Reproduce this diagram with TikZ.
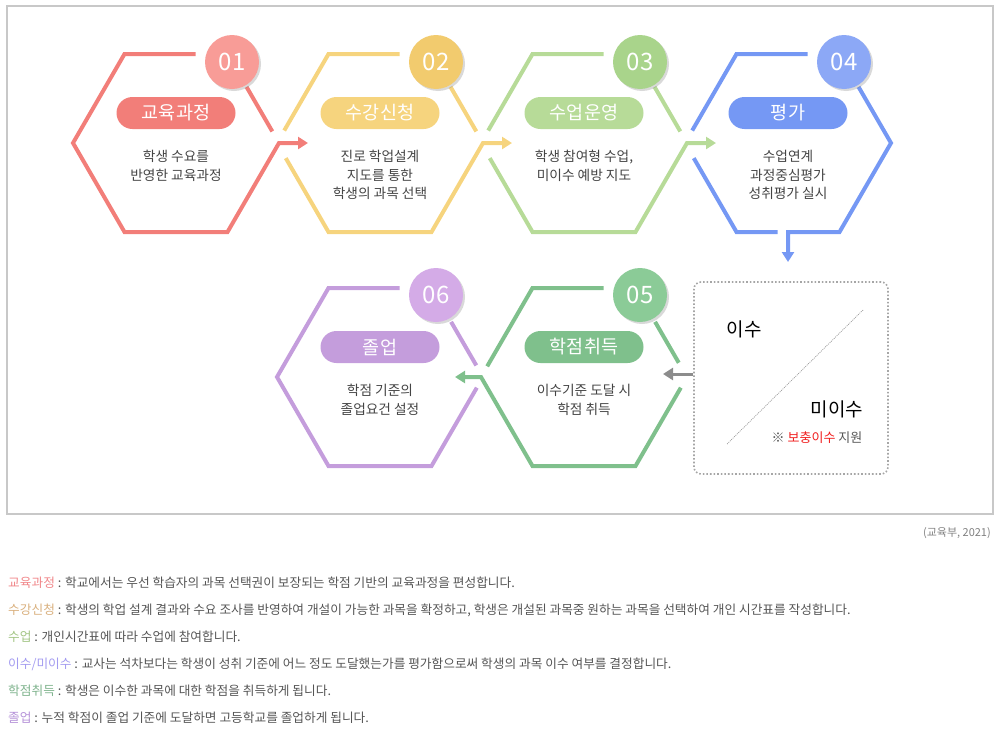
\documentclass[tikz,border=0pt]{standalone}
\usepackage{fontspec}
\setmainfont{Noto Sans CJK KR}
\usetikzlibrary{calc,arrows.meta,shadows}

\definecolor{redL}{HTML}{F27E79}
\definecolor{redD}{HTML}{F89C97}
\definecolor{yelL}{HTML}{F6D47E}
\definecolor{yelD}{HTML}{F2CB6E}
\definecolor{lgrL}{HTML}{B7DB98}
\definecolor{lgrD}{HTML}{A9D48B}
\definecolor{bluL}{HTML}{7598F4}
\definecolor{bluD}{HTML}{8CA8F6}
\definecolor{grnL}{HTML}{7FC08C}
\definecolor{grnD}{HTML}{8BCB97}
\definecolor{purL}{HTML}{C49DDC}
\definecolor{purD}{HTML}{D4ABE7}
\definecolor{txtgray}{HTML}{555555}
\definecolor{bodygray}{HTML}{444444}
\definecolor{framegray}{HTML}{C8C8C8}
\definecolor{notered}{HTML}{F01E1E}

\begin{document}
\begin{tikzpicture}[x=1pt,y=-1pt,
    hexline/.style={line width=4pt,draw=#1},
    arr/.style={-{Triangle[length=10pt,width=12pt]}},
    numdot/.style={circle,minimum size=54pt,inner sep=0pt,fill=#1,text=white,
      font=\fontsize{24}{24}\selectfont,
      drop shadow={shadow xshift=2pt,shadow yshift=-2pt,opacity=.3}},
    pill/.style={rectangle,rounded corners=16pt,minimum width=119pt,minimum height=32pt,
      inner sep=0pt,fill=#1,text=white,font=\fontsize{18.5}{18.5}\selectfont},
    bodytxt/.style={align=center,anchor=north,inner sep=0pt,text=bodygray,
      font=\fontsize{13.7}{18.7}\selectfont},
    notetxt/.style={anchor=west,inner sep=0pt,text=txtgray,font=\fontsize{12.7}{12.7}\selectfont}]

\useasboundingbox (0,0) rectangle (995,739);
\draw[framegray,line width=1.3pt] (7,6) rectangle (993,514);

% hexagon corners
\foreach \n/\cx/\cy in {1/176/143,2/380/143,3/584/143,4/788/143,5/584/377,6/380/377}{
  \coordinate (h\n) at (\cx,\cy);
  \coordinate (h\n-e) at (\cx+103,\cy);
  \coordinate (h\n-ne) at (\cx+51.5,\cy-89);
  \coordinate (h\n-nw) at (\cx-51.5,\cy-89);
  \coordinate (h\n-w) at (\cx-103,\cy);
  \coordinate (h\n-sw) at (\cx-51.5,\cy+89);
  \coordinate (h\n-se) at (\cx+51.5,\cy+89);
}
\coordinate (h4-s) at (788,232);
\coordinate (a12) at (308,143);
\coordinate (a23) at (512,143);
\coordinate (a34) at (716,143);
\coordinate (a45) at (788,262);
\coordinate (a56) at (455,377);
\coordinate (a05) at (663,374);

% 01
\draw[hexline=redL,arr] ($(h1-nw)!.69!(h1-ne)$) -- (h1-nw) -- (h1-w) -- (h1-sw) -- (h1-se) -- (h1-e) -- (a12);
\draw[hexline=redL] ($(h1-ne)!.37!(h1-e)$) -- ($(h1-ne)!.87!(h1-e)$);
% 02
\draw[hexline=yelL] ($(h2-nw)!.69!(h2-ne)$) -- (h2-nw) -- ($(h2-nw)!.86!(h2-w)$);
\draw[hexline=yelL,arr] ($(h2-w)!.17!(h2-sw)$) -- (h2-sw) -- (h2-se) -- (h2-e) -- (a23);
\draw[hexline=yelL] ($(h2-ne)!.37!(h2-e)$) -- ($(h2-ne)!.87!(h2-e)$);
% 03
\draw[hexline=lgrL] ($(h3-nw)!.69!(h3-ne)$) -- (h3-nw) -- ($(h3-nw)!.86!(h3-w)$);
\draw[hexline=lgrL,arr] ($(h3-w)!.17!(h3-sw)$) -- (h3-sw) -- (h3-se) -- (h3-e) -- (a34);
\draw[hexline=lgrL] ($(h3-ne)!.37!(h3-e)$) -- ($(h3-ne)!.87!(h3-e)$);
% 04
\draw[hexline=bluL] ($(h4-nw)!.69!(h4-ne)$) -- (h4-nw) -- ($(h4-nw)!.86!(h4-w)$);
\draw[hexline=bluL] ($(h4-w)!.17!(h4-sw)$) -- (h4-sw) -- ($(h4-sw)!.40!(h4-se)$);
\draw[hexline=bluL,arr] ($(h4-ne)!.37!(h4-e)$) -- (h4-e) -- (h4-se) -- (h4-s) -- (a45);
% 05
\draw[hexline=grnL] ($(h5-nw)!.69!(h5-ne)$) -- (h5-nw) -- ($(h5-nw)!.88!(h5-w)$);
\draw[hexline=grnL,arr] ($(h5-se)!.88!(h5-e)$) -- (h5-se) -- (h5-sw) -- (h5-w) -- (a56);
\draw[hexline=grnL] ($(h5-ne)!.38!(h5-e)$) -- ($(h5-ne)!.84!(h5-e)$);
% 06
\draw[hexline=purL] ($(h6-nw)!.69!(h6-ne)$) -- (h6-nw) -- (h6-w) -- (h6-sw) -- (h6-se) -- ($(h6-se)!.88!(h6-e)$);
\draw[hexline=purL] ($(h6-ne)!.38!(h6-e)$) -- ($(h6-ne)!.87!(h6-e)$);

% numbers
\node[numdot=redD] (d1) at (232,62) {01};
\node[numdot=yelD] (d2) at (436,62) {02};
\node[numdot=lgrD] (d3) at (640,62) {03};
\node[numdot=bluD] (d4) at (844,62) {04};
\node[numdot=grnD] (d5) at (640,295) {05};
\node[numdot=purD] (d6) at (436,295) {06};

% titles
\node[pill=redL] (p1) at (176,113) {교육과정};
\node[pill=yelL] (p2) at (380,113) {수강신청};
\node[pill=lgrL] (p3) at (584,113) {수업운영};
\node[pill=bluL] (p4) at (788,113) {평가};
\node[pill=grnL] (p5) at (584,347) {학점취득};
\node[pill=purL] (p6) at (380,347) {졸업};

% texts
\node[bodytxt] (t1) at (176,150) {학생 수요를\\반영한 교육과정};
\node[bodytxt] (t2) at (380,150) {진로 학업설계\\지도를 통한\\학생의 과목 선택};
\node[bodytxt] (t3) at (584,150) {학생 참여형 수업,\\미이수 예방 지도};
\node[bodytxt] (t4) at (788,150) {수업연계\\과정중심평가\\성취평가 실시};
\node[bodytxt] (t5) at (584,384) {이수기준 도달 시\\학점 취득};
\node[bodytxt] (t6) at (380,384) {학점 기준의\\졸업요건 설정};

% pass / fail box
\node[draw=gray!70,line width=1.6pt,dash pattern=on 1.6pt off 2pt,rounded corners=7pt,
  minimum width=194pt,minimum height=192pt] (chk) at (791,378) {};
\draw[gray!80,line width=.7pt,dash pattern=on 1pt off 1pt] (727,444) -- (863,310);
\node[font=\fontsize{19}{19}\selectfont] (ok) at (744,329) {이수};
\node[font=\fontsize{19}{19}\selectfont] (ng) at (837,409) {미이수};
\node[font=\fontsize{13}{13}\selectfont,text=txtgray] (sup) at (817,438) {※ \textcolor{notered}{보충이수} 지원};
\draw[line width=3pt,gray!90,arr] ([yshift=4pt]chk.west) -- (a05);

\node[anchor=east,inner sep=0pt,text=gray,font=\fontsize{11}{11}\selectfont] (src) at (991,533) {(교육부, 2021)};

% notes
\node[notetxt] (n1) at (8,583) {\textcolor[HTML]{F0878A}{교육과정} : 학교에서는 우선 학습자의 과목 선택권이 보장되는 학점 기반의 교육과정을 편성합니다.};
\node[notetxt] (n2) at (8,610) {\textcolor[HTML]{D9B07E}{수강신청} : 학생의 학업 설계 결과와 수요 조사를 반영하여 개설이 가능한 과목을 확정하고, 학생은 개설된 과목중 원하는 과목을 선택하여 개인 시간표를 작성합니다.};
\node[notetxt] (n3) at (8,637) {\textcolor[HTML]{A3C585}{수업} : 개인시간표에 따라 수업에 참여합니다.};
\node[notetxt] (n4) at (8,664) {\textcolor[HTML]{A39BF0}{이수/미이수} : 교사는 석차보다는 학생이 성취 기준에 어느 정도 도달했는가를 평가함으로써 학생의 과목 이수 여부를 결정합니다.};
\node[notetxt] (n5) at (8,691) {\textcolor[HTML]{7FB38D}{학점취득} : 학생은 이수한 과목에 대한 학점을 취득하게 됩니다.};
\node[notetxt] (n6) at (8,718) {\textcolor[HTML]{B592D8}{졸업} : 누적 학점이 졸업 기준에 도달하면 고등학교를 졸업하게 됩니다.};
\end{tikzpicture}
\end{document}
